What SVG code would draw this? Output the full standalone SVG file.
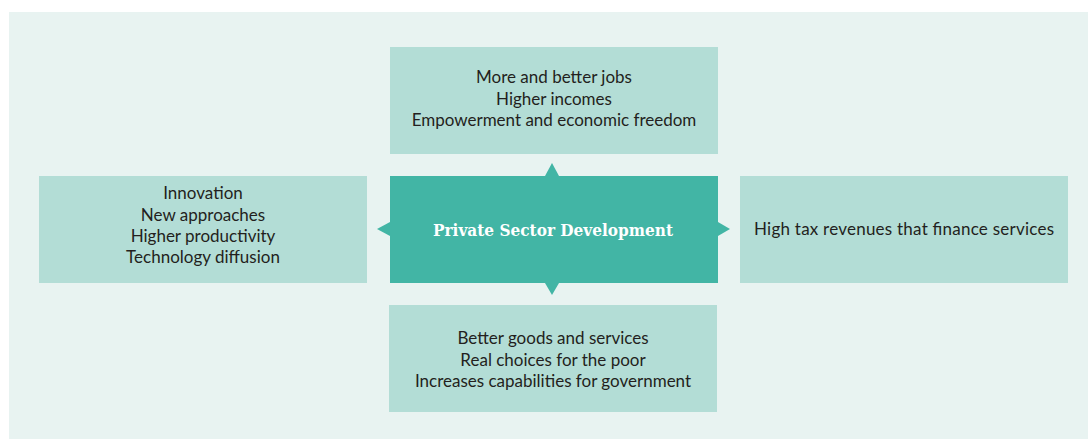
<svg xmlns="http://www.w3.org/2000/svg" width="1088" height="439" viewBox="0 0 1088 439">
  <style>
    .panel { fill: #b3ddd6; }
    .core { fill: #42b5a5; }
    .lbl { font-family: Lato, "Noto Sans", "Liberation Sans", sans-serif; font-size: 17px; fill: #231f20; text-anchor: middle; }
    .title { font-family: "DejaVu Serif", "Liberation Serif", serif; font-weight: bold; font-size: 17.5px; fill: #ffffff; text-anchor: middle; }
    .tip { fill: #42b5a5; }
  </style>
  <rect x="9" y="12" width="1079" height="427" fill="#e8f3f1"/>

  <g id="connectors">
    <polygon class="tip" points="552,163 545,176 559,176"/>
    <polygon class="tip" points="552,295 545,283 559,283"/>
    <polygon class="tip" points="377,229 390,222 390,236"/>
    <polygon class="tip" points="730,229 718,222 718,236"/>
  </g>

  <g id="node-center">
    <rect class="core" x="390" y="176" width="328" height="107"/>
    <text class="title" x="553" y="235.5" textLength="240" lengthAdjust="spacingAndGlyphs">Private Sector Development</text>
  </g>

  <g id="node-top">
    <rect class="panel" x="390" y="47" width="328" height="107"/>
    <text class="lbl" x="554" y="83">More and better jobs</text>
    <text class="lbl" x="554" y="104.5">Higher incomes</text>
    <text class="lbl" x="554" y="126">Empowerment and economic freedom</text>
  </g>

  <g id="node-left">
    <rect class="panel" x="39" y="176" width="328" height="107"/>
    <text class="lbl" x="203" y="199">Innovation</text>
    <text class="lbl" x="203" y="220.5">New approaches</text>
    <text class="lbl" x="203" y="242">Higher productivity</text>
    <text class="lbl" x="203" y="263">Technology diffusion</text>
  </g>

  <g id="node-right">
    <rect class="panel" x="740" y="176" width="328" height="107"/>
    <text class="lbl" x="904" y="235" textLength="300">High tax revenues that finance services</text>
  </g>

  <g id="node-bottom">
    <rect class="panel" x="389" y="305" width="328" height="107"/>
    <text class="lbl" x="553" y="344">Better goods and services</text>
    <text class="lbl" x="553" y="365.5">Real choices for the poor</text>
    <text class="lbl" x="553" y="387">Increases capabilities for government</text>
  </g>
</svg>
